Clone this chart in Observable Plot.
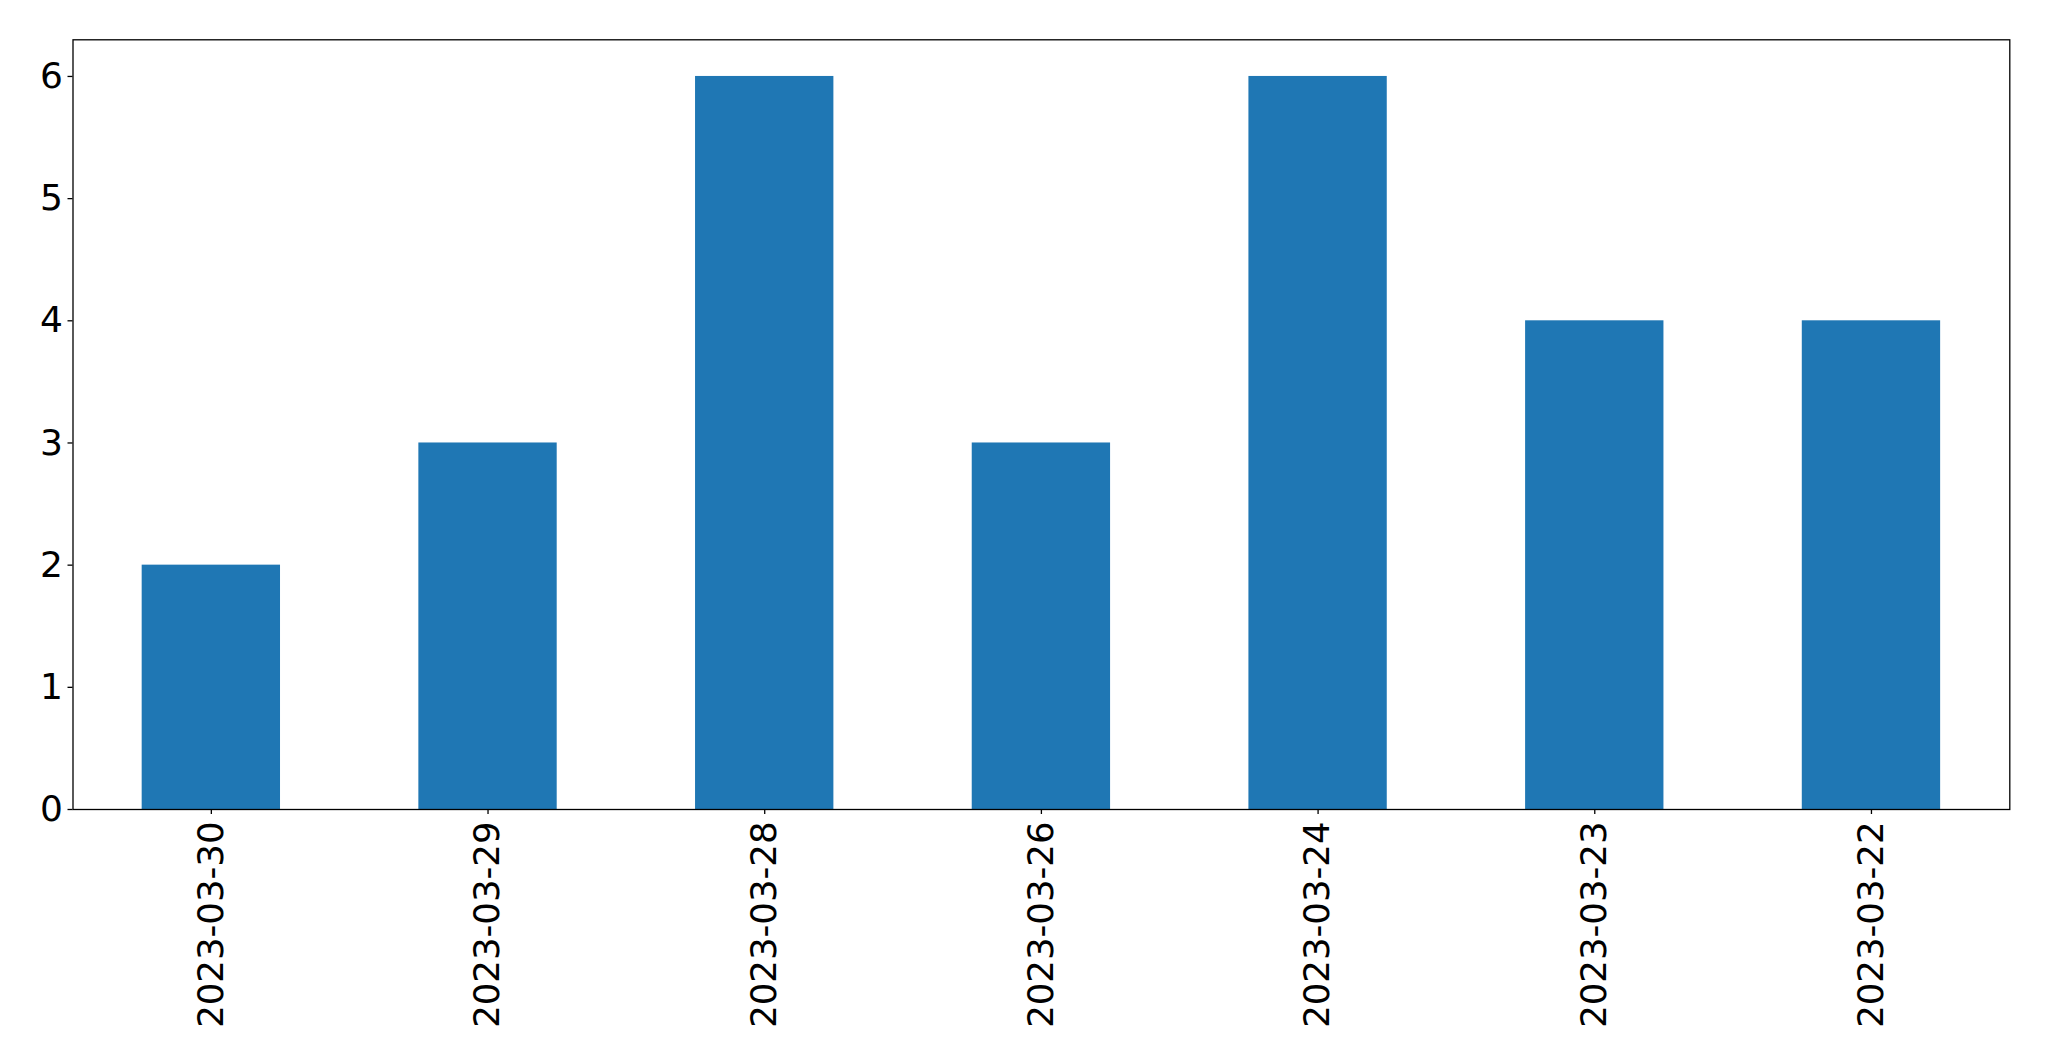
<!DOCTYPE html>
<html>
<head>
<meta charset="utf-8">
<script src="https://cdn.jsdelivr.net/npm/d3@7"></script>
<script src="https://cdn.jsdelivr.net/npm/@observablehq/plot@0.6"></script>
<style>
  html, body { margin: 0; padding: 0; background: #fff; }
  svg { display: block; }
</style>
</head>
<body>
<div id="chart"></div>
<script>
const dates = ["2023-03-30", "2023-03-29", "2023-03-28", "2023-03-26", "2023-03-24", "2023-03-23", "2023-03-22"];
const counts = [2, 3, 6, 3, 6, 4, 4];
const yTicks = [0, 1, 2, 3, 4, 5, 6];

const data = dates.map((d, i) => ({date: d, count: counts[i]}));

const chart = Plot.plot({
  width: 2049,
  height: 1061,
  marginLeft: 72.5,
  marginRight: 39.7,
  marginTop: 39.3,
  marginBottom: 252,
  style: {fontFamily: "DejaVu Sans", fontSize: "36px", color: "#000", background: "#fff"},
  x: {type: "band", domain: dates, paddingInner: 0.5, paddingOuter: 0.25, align: 0.5, round: false, label: null},
  y: {domain: [0, 6.3], label: null},
  marks: [
    Plot.barY(data, {x: "date", y: "count", fill: "#1f77b4"}),
    Plot.frame({stroke: "#000", strokeWidth: 1.3}),
    Plot.axisY({ticks: yTicks, tickSize: 5, tickPadding: 5, fontSize: 36, label: null, tickFormat: d => String(d), strokeWidth: 1.3}),
    Plot.axisX({tickSize: 5, tickPadding: 7, tickRotate: -90, fontSize: 35.5, label: null, strokeWidth: 1.3})
  ]
});
document.getElementById("chart").appendChild(chart);
</script>
</body>
</html>
